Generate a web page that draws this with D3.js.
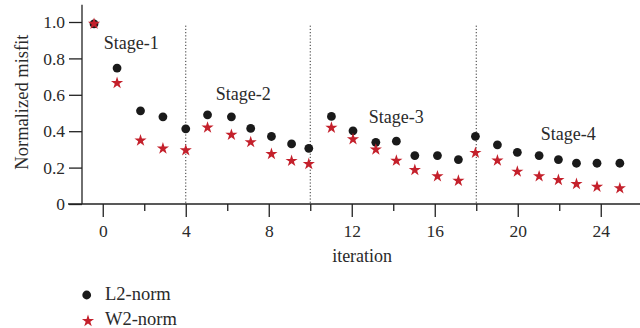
<!DOCTYPE html>
<html><head><meta charset="utf-8">
<script src="https://cdn.jsdelivr.net/npm/d3@7"></script>
<style>body{margin:0;background:#fff}svg{display:block}text{font-family:"Liberation Serif","Times New Roman",serif;fill:#2a2a2a}</style>
</head><body><svg id="c" width="640" height="328"></svg>
<script>
const iterations = [-0.42, 0.69, 1.82, 2.9, 4.0, 5.05, 6.2, 7.13, 8.13, 9.1, 9.93, 11.02, 12.06, 13.16, 14.15, 15.04, 16.13, 17.14, 17.96, 19.02, 19.98, 21.03, 21.96, 22.83, 23.82, 24.92];
const l2norm = [0.99, 0.747, 0.512, 0.479, 0.413, 0.49, 0.479, 0.415, 0.371, 0.33, 0.306, 0.481, 0.402, 0.339, 0.345, 0.266, 0.266, 0.244, 0.372, 0.325, 0.284, 0.266, 0.244, 0.224, 0.224, 0.224];
const w2norm = [0.99, 0.665, 0.349, 0.305, 0.295, 0.42, 0.38, 0.34, 0.275, 0.237, 0.22, 0.419, 0.356, 0.299, 0.238, 0.187, 0.152, 0.128, 0.281, 0.239, 0.178, 0.152, 0.132, 0.11, 0.095, 0.086];
const stageBounds = [4, 10, 18];
const stageNames = ["Stage-1", "Stage-2", "Stage-3", "Stage-4"];
const stageAnchors = [[0.05, 0.85], [5.45, 0.573], [12.82, 0.444], [21.11, 0.349]];
const xTicks = [0, 2, 4, 6, 8, 10, 12, 14, 16, 18, 20, 22, 24];
const yTicks = [0, 0.2, 0.4, 0.6, 0.8, 1.0];
const seriesNames = ["L2-norm", "W2-norm"];

const svg = d3.select("#c");
const x = d3.scaleLinear().domain([-1, 26]).range([82, 642.25]);
const y = d3.scaleLinear().domain([0, 1]).range([204, 22]);
const ink = "#222";
const red = "#c4202b";
const fs = "17.5px";

// x axis
const gx = svg.append("g").attr("transform", `translate(0,${y(0)})`)
  .call(d3.axisBottom(x).tickValues(xTicks).tickSizeOuter(0)
    .tickFormat(d => d % 4 === 0 ? d : ""));
gx.select(".domain").remove();
gx.append("line").attr("x1", 68).attr("x2", 640).attr("stroke", ink).attr("stroke-width", 1.3);
gx.selectAll(".tick line").attr("stroke", ink).attr("stroke-width", 1.3)
  .attr("y2", d => d % 4 === 0 ? 13 : 7);
gx.selectAll(".tick text").attr("y", 21).attr("dy", "0.71em").style("font-size", fs).style("font-family", "Liberation Serif").attr("fill", "#2a2a2a");

// y axis
const gy = svg.append("g").attr("transform", `translate(${x(-1)},0)`)
  .call(d3.axisLeft(y).tickValues(yTicks).tickSize(13).tickPadding(4)
    .tickFormat(d => d === 0 ? "0" : d3.format(".1f")(d)));
gy.select(".domain").remove();
gy.append("line").attr("y1", y(0)).attr("y2", y(1.095)).attr("stroke", ink).attr("stroke-width", 1.3);
gy.selectAll(".tick line").attr("stroke", ink).attr("stroke-width", 1.3);
gy.selectAll(".tick text").style("font-size", fs).style("font-family", "Liberation Serif").attr("fill", "#2a2a2a");

// titles
svg.append("text").attr("x", x(12.5)).attr("y", 262).attr("text-anchor", "middle").style("font-size", "18px").text("iteration");
svg.append("text").attr("transform", `translate(28,${y(0.56)}) rotate(-90)`).attr("text-anchor", "middle").style("font-size", "18.5px").text("Normalized misfit");

// stage separators
svg.selectAll("line.sep").data(stageBounds).join("line").attr("class", "sep")
  .attr("x1", d => x(d)).attr("x2", d => x(d)).attr("y1", y(0.98)).attr("y2", y(0))
  .attr("stroke", "#333").attr("stroke-width", 1).attr("stroke-dasharray", "1.2,2");

// stage labels
svg.selectAll("text.stage").data(stageNames).join("text").attr("class", "stage")
  .attr("x", (d, i) => x(stageAnchors[i][0])).attr("y", (d, i) => y(stageAnchors[i][1]))
  .style("font-size", "18px").text(d => d);

// series
const pts = iterations.map((it, i) => ({it, l2: l2norm[i], w2: w2norm[i]}));
const star = d3.symbol().type(d3.symbolStar).size(46);
svg.selectAll("circle.l2").data(pts).join("circle").attr("class", "l2")
  .attr("cx", d => x(d.it)).attr("cy", d => y(d.l2)).attr("r", 4.4).attr("fill", "#1a1a1a");
svg.selectAll("path.w2").data(pts).join("path").attr("class", "w2")
  .attr("transform", d => `translate(${x(d.it)},${y(d.w2)})`).attr("d", star).attr("fill", red);

// legend
const leg = svg.append("g");
leg.append("circle").attr("cx", 86.7).attr("cy", 295).attr("r", 4.4).attr("fill", "#1a1a1a");
leg.append("path").attr("transform", "translate(88,321)").attr("d", star).attr("fill", red);
leg.selectAll("text").data(seriesNames).join("text")
  .attr("x", 105).attr("y", (d, i) => 300 + i * 25).style("font-size", "18.5px").text(d => d);
</script></body></html>
